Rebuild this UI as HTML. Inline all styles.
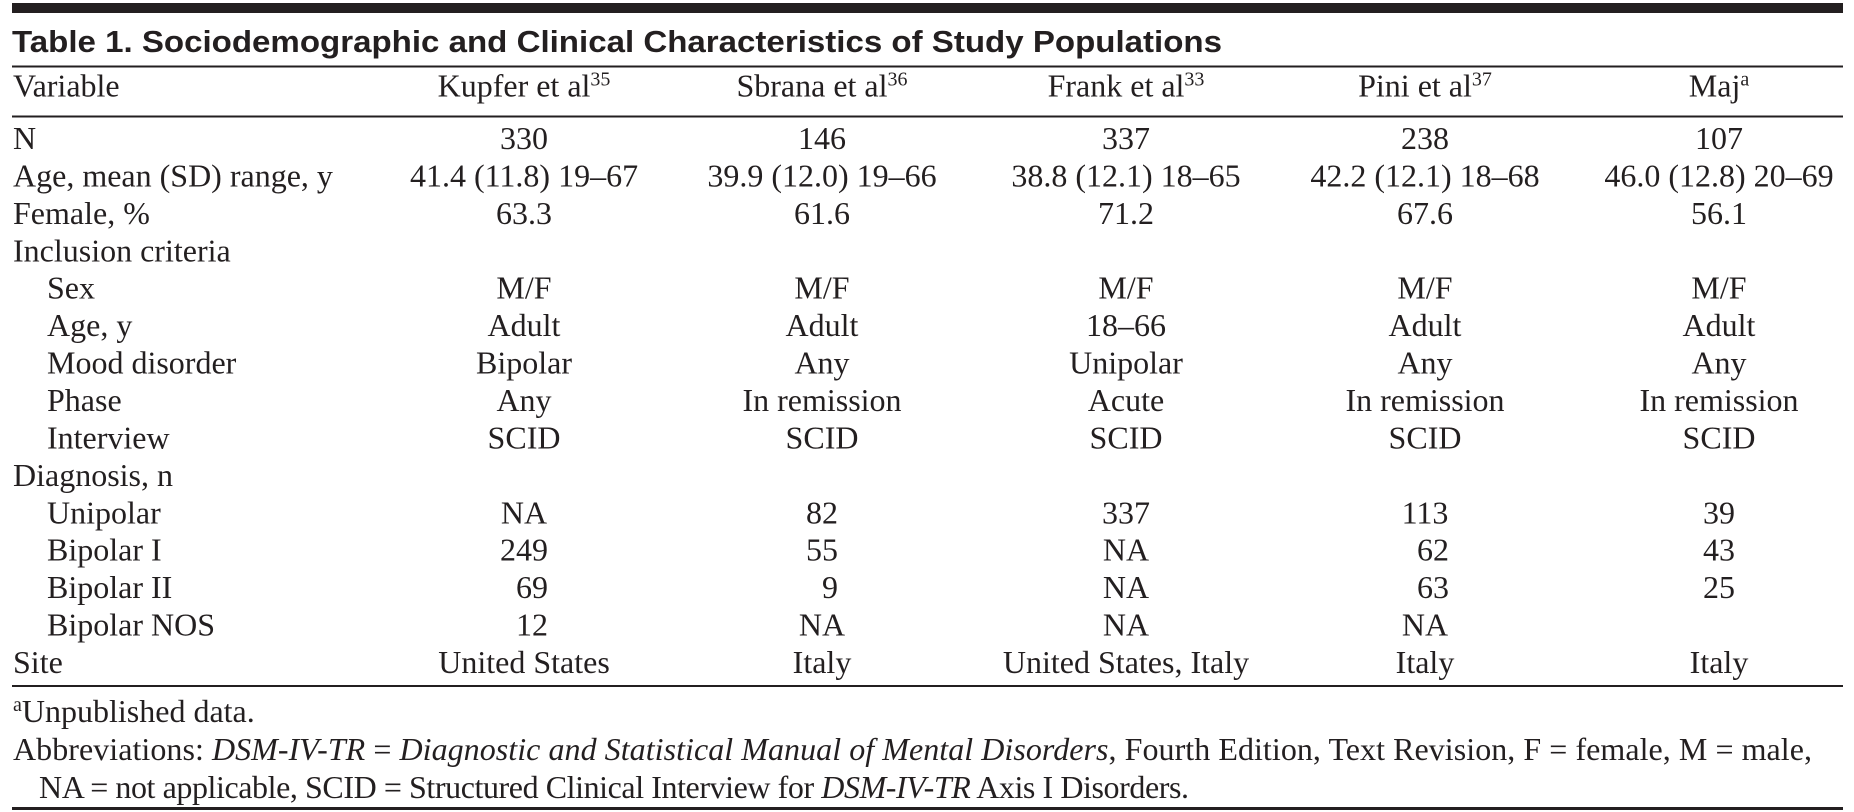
<!DOCTYPE html>
<html>
<head>
<meta charset="utf-8">
<style>
  html, body { margin: 0; padding: 0; background: #fff; }
  body { width: 1854px; height: 812px; overflow: hidden; }
  svg { display: block; }
  .t { font-family: "Liberation Serif", "DejaVu Serif", serif; font-size: 32px; fill: #231f20; }
  .c { text-anchor: middle; }
  .r { text-anchor: end; }
  .i { font-style: italic; }
</style>
</head>
<body>
<svg width="1854" height="812" viewBox="0 0 1854 812" xmlns="http://www.w3.org/2000/svg">
  <rect x="0" y="0" width="1854" height="812" fill="#ffffff"/>
  <!-- top thick bar -->
  <rect x="12" y="3" width="1831" height="10" fill="#231f20"/>
  <!-- title -->
  <text x="12" y="52" font-family="Liberation Sans, Arial, sans-serif" font-weight="bold" font-size="31" fill="#231f20" textLength="1210" lengthAdjust="spacingAndGlyphs">Table 1. Sociodemographic and Clinical Characteristics of Study Populations</text>
  <rect x="12" y="65.5" width="1831" height="2" fill="#231f20"/>

  <!-- header -->
  <text class="t" x="13" y="96.5">Variable</text>
  <text class="t c" x="524" y="96.5">Kupfer et al<tspan font-size="20" dy="-11">35</tspan></text>
  <text class="t c" x="822" y="96.5">Sbrana et al<tspan font-size="20" dy="-11">36</tspan></text>
  <text class="t c" x="1126" y="96.5">Frank et al<tspan font-size="20" dy="-11">33</tspan></text>
  <text class="t c" x="1425" y="96.5">Pini et al<tspan font-size="20" dy="-11">37</tspan></text>
  <text class="t c" x="1719" y="96.5">Maj<tspan font-size="20" dy="-11">a</tspan></text>
  <rect x="12" y="115.5" width="1831" height="2" fill="#231f20"/>

  <!-- row 0: N -->
  <text class="t" x="13" y="149">N</text>
  <text class="t c" x="524" y="149">330</text>
  <text class="t c" x="822" y="149">146</text>
  <text class="t c" x="1126" y="149">337</text>
  <text class="t c" x="1425" y="149">238</text>
  <text class="t c" x="1719" y="149">107</text>

  <!-- row 1: Age -->
  <text class="t" x="13" y="186.4">Age, mean (SD) range, y</text>
  <text class="t c" x="524" y="186.4">41.4 (11.8) 19–67</text>
  <text class="t c" x="822" y="186.4">39.9 (12.0) 19–66</text>
  <text class="t c" x="1126" y="186.4">38.8 (12.1) 18–65</text>
  <text class="t c" x="1425" y="186.4">42.2 (12.1) 18–68</text>
  <text class="t c" x="1719" y="186.4">46.0 (12.8) 20–69</text>

  <!-- row 2: Female -->
  <text class="t" x="13" y="223.9">Female, %</text>
  <text class="t c" x="524" y="223.9">63.3</text>
  <text class="t c" x="822" y="223.9">61.6</text>
  <text class="t c" x="1126" y="223.9">71.2</text>
  <text class="t c" x="1425" y="223.9">67.6</text>
  <text class="t c" x="1719" y="223.9">56.1</text>

  <!-- row 3 -->
  <text class="t" x="13" y="261.3">Inclusion criteria</text>

  <!-- row 4: Sex -->
  <text class="t" x="47" y="298.7">Sex</text>
  <text class="t c" x="524" y="298.7">M/F</text>
  <text class="t c" x="822" y="298.7">M/F</text>
  <text class="t c" x="1126" y="298.7">M/F</text>
  <text class="t c" x="1425" y="298.7">M/F</text>
  <text class="t c" x="1719" y="298.7">M/F</text>

  <!-- row 5: Age, y -->
  <text class="t" x="47" y="336.2">Age, y</text>
  <text class="t c" x="524" y="336.2">Adult</text>
  <text class="t c" x="822" y="336.2">Adult</text>
  <text class="t c" x="1126" y="336.2">18–66</text>
  <text class="t c" x="1425" y="336.2">Adult</text>
  <text class="t c" x="1719" y="336.2">Adult</text>

  <!-- row 6: Mood disorder -->
  <text class="t" x="47" y="373.6">Mood disorder</text>
  <text class="t c" x="524" y="373.6">Bipolar</text>
  <text class="t c" x="822" y="373.6">Any</text>
  <text class="t c" x="1126" y="373.6">Unipolar</text>
  <text class="t c" x="1425" y="373.6">Any</text>
  <text class="t c" x="1719" y="373.6">Any</text>

  <!-- row 7: Phase -->
  <text class="t" x="47" y="411">Phase</text>
  <text class="t c" x="524" y="411">Any</text>
  <text class="t c" x="822" y="411">In remission</text>
  <text class="t c" x="1126" y="411">Acute</text>
  <text class="t c" x="1425" y="411">In remission</text>
  <text class="t c" x="1719" y="411">In remission</text>

  <!-- row 8: Interview -->
  <text class="t" x="47" y="448.4">Interview</text>
  <text class="t c" x="524" y="448.4">SCID</text>
  <text class="t c" x="822" y="448.4">SCID</text>
  <text class="t c" x="1126" y="448.4">SCID</text>
  <text class="t c" x="1425" y="448.4">SCID</text>
  <text class="t c" x="1719" y="448.4">SCID</text>

  <!-- row 9 -->
  <text class="t" x="13" y="485.9">Diagnosis, n</text>

  <!-- row 10: Unipolar -->
  <text class="t" x="47" y="523.3">Unipolar</text>
  <text class="t c" x="524" y="523.3">NA</text>
  <text class="t c" x="822" y="523.3">82</text>
  <text class="t c" x="1126" y="523.3">337</text>
  <text class="t c" x="1425" y="523.3">113</text>
  <text class="t c" x="1719" y="523.3">39</text>

  <!-- row 11: Bipolar I -->
  <text class="t" x="47" y="560.7">Bipolar I</text>
  <text class="t c" x="524" y="560.7">249</text>
  <text class="t c" x="822" y="560.7">55</text>
  <text class="t c" x="1126" y="560.7">NA</text>
  <text class="t r" x="1449" y="560.7">62</text>
  <text class="t c" x="1719" y="560.7">43</text>

  <!-- row 12: Bipolar II -->
  <text class="t" x="47" y="598.2">Bipolar II</text>
  <text class="t r" x="548" y="598.2">69</text>
  <text class="t r" x="838" y="598.2">9</text>
  <text class="t c" x="1126" y="598.2">NA</text>
  <text class="t r" x="1449" y="598.2">63</text>
  <text class="t c" x="1719" y="598.2">25</text>

  <!-- row 13: Bipolar NOS -->
  <text class="t" x="47" y="635.6">Bipolar NOS</text>
  <text class="t r" x="548" y="635.6">12</text>
  <text class="t c" x="822" y="635.6">NA</text>
  <text class="t c" x="1126" y="635.6">NA</text>
  <text class="t c" x="1425" y="635.6">NA</text>

  <!-- row 14: Site -->
  <text class="t" x="13" y="673">Site</text>
  <text class="t c" x="524" y="673">United States</text>
  <text class="t c" x="822" y="673">Italy</text>
  <text class="t c" x="1126" y="673">United States, Italy</text>
  <text class="t c" x="1425" y="673">Italy</text>
  <text class="t c" x="1719" y="673">Italy</text>

  <rect x="12" y="685" width="1831" height="2" fill="#231f20"/>

  <!-- footnotes -->
  <text class="t" x="13" y="722"><tspan font-size="20" dy="-11">a</tspan><tspan dy="11">Unpublished data.</tspan></text>
  <text class="t" x="13" y="760" textLength="1799" lengthAdjust="spacing">Abbreviations: <tspan class="i">DSM-IV-TR</tspan> = <tspan class="i">Diagnostic and Statistical Manual of Mental Disorders</tspan>, Fourth Edition, Text Revision, F = female, M = male,</text>
  <text class="t" x="39" y="798" textLength="1150" lengthAdjust="spacing">NA = not applicable, SCID = Structured Clinical Interview for <tspan class="i">DSM-IV-TR</tspan> Axis I Disorders.</text>

  <rect x="12" y="807" width="1831" height="3" fill="#231f20"/>
</svg>
</body>
</html>
